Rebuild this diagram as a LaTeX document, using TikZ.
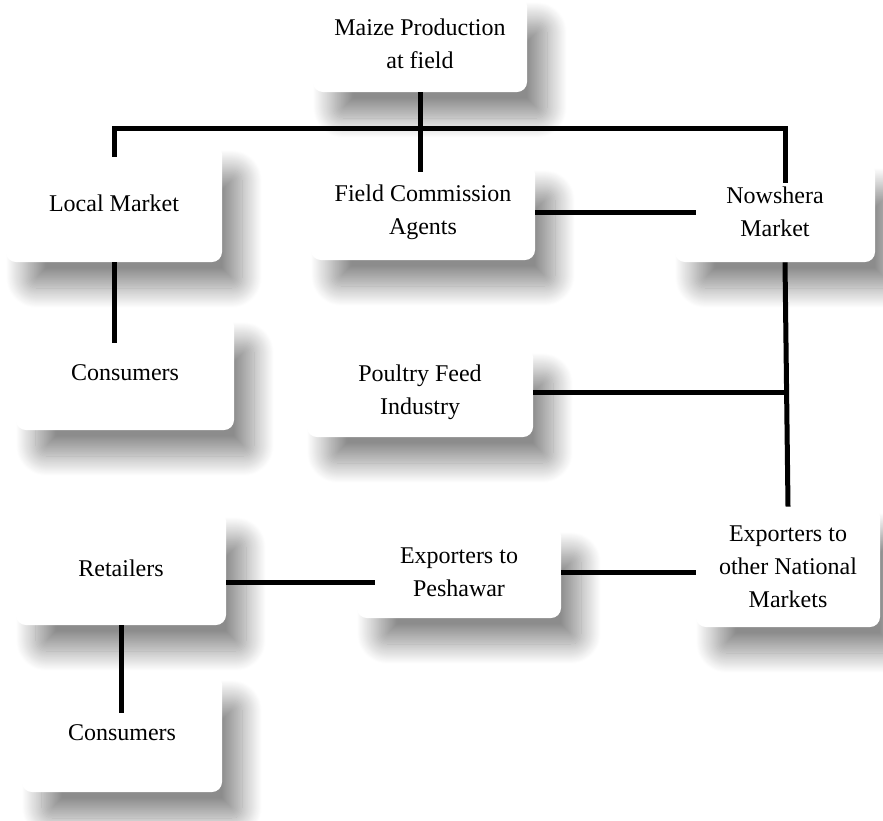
\documentclass[tikz,border=0pt]{standalone}
\usepackage{fontspec}
\setmainfont{Liberation Serif}
\usepackage{tikz}
\usetikzlibrary{shadows.blur}

\begin{document}
\begin{tikzpicture}[x=0.5pt, y=-0.5pt,
  box/.style={rectangle, rounded corners=5pt, fill=white, align=center, inner sep=2pt,
    font=\fontsize{12}{16.5}\selectfont,
    blur shadow={shadow xshift=10pt, shadow yshift=-13pt, shadow blur radius=10pt,
      shadow blur steps=30, shadow opacity=45}},
  link/.style={line width=2.5pt}]
\useasboundingbox (0,0) rectangle (883,820);
\node (M) at (420,44) [box, minimum width=107pt, minimum height=48pt] {Maize Production\\at field};
\node (LM) at (114,203) [box, minimum width=108pt, minimum height=59pt] {Local Market};
\node (FCA) at (423,212) [box, minimum width=112pt, minimum height=48pt] {Field Commission\\Agents};
\node (NM) at (775,212) [box, minimum width=100pt, minimum height=50pt] {Nowshera\\Market};
\node (C1) at (125,373) [box, minimum width=109pt, minimum height=57pt] {Consumers};
\node (PF) at (420,392) [box, minimum width=113pt, minimum height=45pt] {Poultry Feed\\Industry};
\node (R) at (121,568) [box, minimum width=105pt, minimum height=57pt] {Retailers};
\node (EP) at (459,572) [box, minimum width=102pt, minimum height=46pt] {Exporters to\\Peshawar};
\node (EN) at (788,567) [box, minimum width=92pt, minimum height=60pt] {Exporters to\\other National\\Markets};
\node (C2) at (122,733) [box, minimum width=100pt, minimum height=59pt] {Consumers};
\coordinate (bar) at (420,128);

\draw [link, shorten >=-4pt] (M.south) -- (M.south |- FCA.north);
\draw [link, shorten <=-6.5pt, shorten >=-10.5pt] (LM.north) |- (bar) -| ([xshift=5pt]NM.north);
\draw [link, shorten >=-10.5pt] (FCA.east) -- (FCA.east -| NM.west);
\draw [link, shorten >=-13.5pt] (LM.south) -- (LM.south |- C1.north);
\draw [link] ([xshift=5pt]NM.south) -- (EN.north);
\draw [link] (PF.east) -- (PF.east -| EN.north);
\draw [link] (EP.east) -- (EP.east -| EN.west);
\draw [link, shorten <=-9pt] ([yshift=-5pt]EP.west) -- ([yshift=-5pt]EP.west -| R.east);
\draw [link, shorten >=-19.5pt] (R.south) -- (R.south |- C2.north);
\end{tikzpicture}
\end{document}
